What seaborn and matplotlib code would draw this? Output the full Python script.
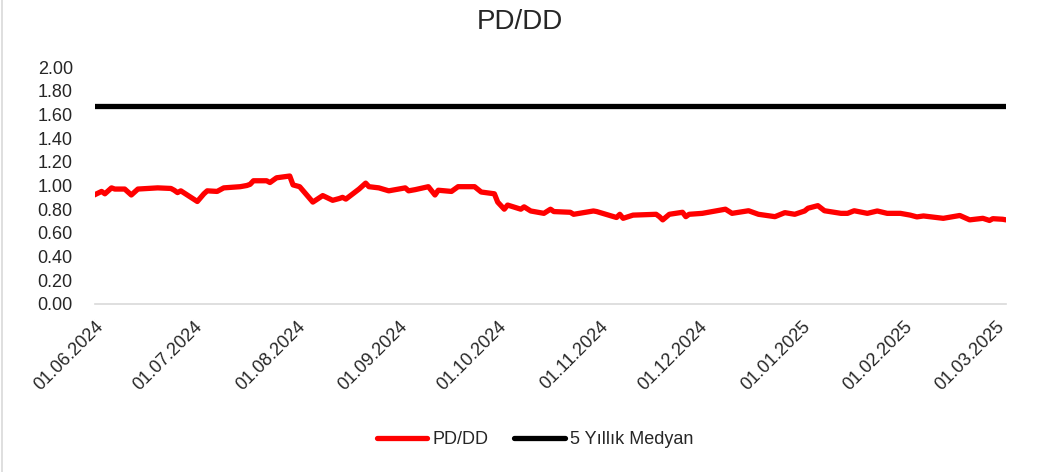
import pandas as pd
import numpy as np
import seaborn as sns
import matplotlib.pyplot as plt
import matplotlib.dates as mdates
from matplotlib.lines import Line2D

# PD/DD values
dates = ['2024-05-31', '2024-06-03', '2024-06-04', '2024-06-06', '2024-06-07', '2024-06-10',
         '2024-06-12', '2024-06-14', '2024-06-20', '2024-06-24', '2024-06-25', '2024-06-26',
         '2024-06-27', '2024-07-02', '2024-07-04', '2024-07-05', '2024-07-08', '2024-07-10',
         '2024-07-15', '2024-07-17', '2024-07-18', '2024-07-19', '2024-07-23', '2024-07-24',
         '2024-07-26', '2024-07-30', '2024-07-31', '2024-08-02', '2024-08-06', '2024-08-09',
         '2024-08-12', '2024-08-14', '2024-08-15', '2024-08-16', '2024-08-20', '2024-08-22',
         '2024-08-23', '2024-08-26', '2024-08-29', '2024-09-03', '2024-09-04', '2024-09-06',
         '2024-09-10', '2024-09-12', '2024-09-13', '2024-09-17', '2024-09-19', '2024-09-24',
         '2024-09-26', '2024-09-30', '2024-10-01', '2024-10-03', '2024-10-04', '2024-10-08',
         '2024-10-09', '2024-10-11', '2024-10-15', '2024-10-17', '2024-10-18', '2024-10-23',
         '2024-10-24', '2024-10-30', '2024-10-31', '2024-11-06', '2024-11-07', '2024-11-08',
         '2024-11-11', '2024-11-18', '2024-11-19', '2024-11-20', '2024-11-22', '2024-11-26',
         '2024-11-27', '2024-11-28', '2024-12-02', '2024-12-09', '2024-12-11', '2024-12-16',
         '2024-12-19', '2024-12-24', '2024-12-27', '2024-12-30', '2025-01-02', '2025-01-03',
         '2025-01-06', '2025-01-08', '2025-01-13', '2025-01-15', '2025-01-17', '2025-01-21',
         '2025-01-24', '2025-01-27', '2025-01-31', '2025-02-03', '2025-02-05', '2025-02-07',
         '2025-02-13', '2025-02-18', '2025-02-21', '2025-02-25', '2025-02-27', '2025-02-28',
         '2025-03-03', '2025-03-04']
pd_dd = [0.91, 0.95, 0.93, 0.98, 0.97, 0.97,
         0.92, 0.97, 0.98, 0.975, 0.96, 0.94,
         0.955, 0.865, 0.93, 0.955, 0.95, 0.98,
         0.99, 1.00, 1.01, 1.04, 1.04, 1.025,
         1.065, 1.08, 1.005, 0.99, 0.86, 0.915,
         0.875, 0.89, 0.90, 0.885, 0.97, 1.02,
         0.99, 0.98, 0.955, 0.98, 0.955, 0.965,
         0.99, 0.92, 0.96, 0.95, 0.99, 0.99,
         0.945, 0.93, 0.86, 0.80, 0.835, 0.80,
         0.82, 0.785, 0.765, 0.80, 0.78, 0.774,
         0.757, 0.785, 0.78, 0.73, 0.757, 0.723,
         0.75, 0.757, 0.737, 0.71, 0.757, 0.774,
         0.737, 0.757, 0.765, 0.80, 0.765, 0.787,
         0.757, 0.737, 0.771, 0.757, 0.785, 0.808,
         0.83, 0.787, 0.765, 0.765, 0.787, 0.765,
         0.785, 0.765, 0.765, 0.75, 0.735, 0.743,
         0.723, 0.747, 0.71, 0.723, 0.705, 0.72,
         0.715, 0.71]
median_5y = 1.67

y_ticks = [0.0, 0.2, 0.4, 0.6, 0.8, 1.0, 1.2, 1.4, 1.6, 1.8, 2.0]
month_ticks = pd.date_range('2024-06-01', '2025-03-01', freq='MS')

df = pd.DataFrame({'date': pd.to_datetime(dates), 'PD/DD': pd_dd})
df['5 Yıllık Medyan'] = median_5y
long = df.melt(id_vars='date', var_name='seri', value_name='deger')

sns.set_style('white')
plt.rcParams['font.family'] = ['Liberation Sans', 'DejaVu Sans']

fig = plt.figure(figsize=(10.39, 4.72), dpi=100)
ax = fig.add_axes([95 / 1039, 1 - 304 / 472, 911 / 1039, 237 / 472])

palette = {'PD/DD': '#ff0000', '5 Yıllık Medyan': '#000000'}
sns.lineplot(data=long, x='date', y='deger', hue='seri', palette=palette,
             linewidth=3.8, ax=ax, legend=False)

ax.set_ylim(0, 2.0)
ax.set_yticks(y_ticks)
ax.set_yticklabels([f"{v:.2f}" for v in y_ticks], fontsize=13)
ax.set_xlim(pd.Timestamp('2024-06-01'), pd.Timestamp('2025-03-04'))
ax.set_xticks(month_ticks)
ax.set_xticklabels([d.strftime('%d.%m.%Y') for d in month_ticks], fontsize=13,
                   rotation=45, ha='right', rotation_mode='anchor')
ax.tick_params(axis='x', direction='out', length=5, color='#d9d9d9', width=1, pad=5)
ax.tick_params(axis='y', length=0, pad=16)
ax.set_xlabel('')
ax.set_ylabel('')
for s in ['top', 'right', 'left']:
    ax.spines[s].set_visible(False)
ax.spines['bottom'].set_color('#d9d9d9')
ax.spines['bottom'].set_linewidth(1.2)

fig.suptitle('PD/DD', fontsize=20, y=0.98)

handles = [Line2D([], [], color='#ff0000', lw=3.8, solid_capstyle='round'),
           Line2D([], [], color='#000000', lw=3.8, solid_capstyle='round')]
fig.legend(handles, ['PD/DD', '5 Yıllık Medyan'], loc='center', bbox_to_anchor=(0.515, 1 - 440 / 472),
           ncol=2, frameon=False, fontsize=13, handlelength=2.8, handletextpad=0.3, columnspacing=1.4)

fig.add_artist(Line2D([2 / 1039, 2 / 1039], [0, 1], color='#d9d9d9', lw=1.2))

fig.savefig('out.png', dpi=100)
